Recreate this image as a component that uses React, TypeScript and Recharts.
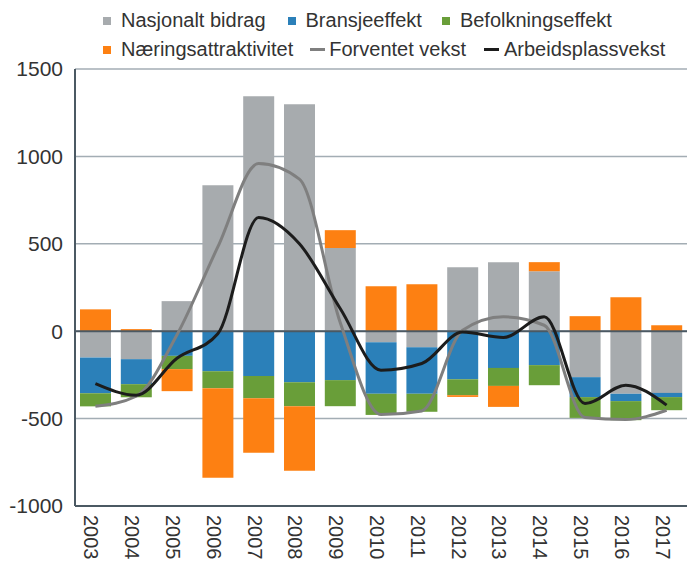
import React from 'react'
import {
  ComposedChart,
  Bar,
  Line,
  XAxis,
  YAxis,
  CartesianGrid,
  ReferenceLine,
} from 'recharts'

const years = ['2003', '2004', '2005', '2006', '2007', '2008', '2009', '2010', '2011', '2012', '2013', '2014', '2015', '2016', '2017']
const nasjonalt = [-150, -160, 172, 835, 1344, 1298, 476, -63, -92, 366, 395, 343, -263, -358, -353]
const bransje = [-205, -143, -141, -229, -257, -292, -280, -295, -266, -275, -210, -194, -114, -42, -24]
const befolkning = [-75, -75, -76, -97, -126, -137, -149, -121, -103, -91, -103, -115, -119, -109, -75]
const naering = [125, 12, -126, -513, -313, -370, 102, 257, 269, -10, -120, 52, 86, 194, 34]
const forventet = [-430, -372, -20, 482, 959, 870, 50, -477, -456, 5, 82, 34, -494, -505, -452]
const arbeid = [-300, -366, -155, -15, 650, 500, 130, -223, -185, -5, -36, 82, -414, -309, -423]
const yTicks = [-1000, -500, 0, 500, 1000, 1500]

const data = years.map((year, i) => ({
  year,
  nasjonalt: nasjonalt[i],
  bransje: bransje[i],
  befolkning: befolkning[i],
  naering: naering[i],
  forventet: forventet[i],
  arbeid: arbeid[i],
}))

const FONT = '"Liberation Sans", Arial, sans-serif'
const TEXT = '#333333'
const AXIS = '#4b5963'

const C = {
  gray: '#a7abae',
  blue: '#2b80b9',
  green: '#699e39',
  orange: '#fd8012',
  lineGray: '#7f7f7f',
  lineBlack: '#1c1c1c',
}

function YearTick({ x, y, payload }: any) {
  return (
    <g transform={`translate(${x - 11},${y}) rotate(90)`}>
      <text x={0} y={0} fontSize={20} fill={TEXT} fontFamily={FONT} textAnchor="start">
        {payload.value}
      </text>
    </g>
  )
}

function Square({ color }: { color: string }) {
  return <span style={{ width: 8, height: 8, background: color, display: 'inline-block' }} />
}

function Dash({ color }: { color: string }) {
  return <span style={{ width: 15, height: 3, background: color, display: 'inline-block' }} />
}

function ChartLegend() {
  const row: React.CSSProperties = { display: 'flex', alignItems: 'center', height: 29, whiteSpace: 'nowrap' }
  return (
    <div style={{ position: 'absolute', left: 103, top: 6, fontSize: 20, color: TEXT, fontFamily: FONT }}>
      <div style={row}>
        <Square color={C.gray} />
        <span style={{ marginLeft: 10 }}>Nasjonalt bidrag</span>
        <span style={{ marginLeft: 22 }} />
        <Square color={C.blue} />
        <span style={{ marginLeft: 10 }}>Bransjeeffekt</span>
        <span style={{ marginLeft: 20 }} />
        <Square color={C.green} />
        <span style={{ marginLeft: 10 }}>Befolkningseffekt</span>
      </div>
      <div style={row}>
        <Square color={C.orange} />
        <span style={{ marginLeft: 10 }}>Næringsattraktivitet</span>
        <span style={{ marginLeft: 17 }} />
        <Dash color={C.lineGray} />
        <span style={{ marginLeft: 4 }}>Forventet vekst</span>
        <span style={{ marginLeft: 18 }} />
        <Dash color={C.lineBlack} />
        <span style={{ marginLeft: 5 }}>Arbeidsplassvekst</span>
      </div>
    </div>
  )
}

export default function App() {
  return (
    <div style={{ position: 'absolute', left: 0, top: 0, width: 696, height: 563, background: '#fff', fontFamily: FONT }}>
      <ComposedChart
        width={696}
        height={563}
        data={data}
        stackOffset="sign"
        margin={{ top: 69, right: 9, left: 0, bottom: 0 }}
      >
        <CartesianGrid vertical={false} stroke="#a3adb4" strokeWidth={1.5} />
        <XAxis
          dataKey="year"
          height={57}
          tickSize={0}
          tickMargin={9}
          tick={<YearTick />}
          interval={0}
          axisLine={{ stroke: AXIS, strokeWidth: 2 }}
          tickLine={false}
        />
        <YAxis
          width={75}
          domain={[-1000, 1500]}
          ticks={yTicks}
          interval={0}
          tickSize={0}
          tickMargin={12}
          tick={{ fontSize: 21, fill: TEXT, fontFamily: FONT }}
          axisLine={{ stroke: AXIS, strokeWidth: 2 }}
          tickLine={false}
        />
        <Bar dataKey="nasjonalt" stackId="a" fill={C.gray} barSize={31} isAnimationActive={false} />
        <Bar dataKey="bransje" stackId="a" fill={C.blue} barSize={31} isAnimationActive={false} />
        <Bar dataKey="befolkning" stackId="a" fill={C.green} barSize={31} isAnimationActive={false} />
        <Bar dataKey="naering" stackId="a" fill={C.orange} barSize={31} isAnimationActive={false} />
        <ReferenceLine y={0} stroke={AXIS} strokeWidth={2} />
        <Line type="monotone" dataKey="forventet" stroke={C.lineGray} strokeWidth={3} dot={false} isAnimationActive={false} />
        <Line type="monotone" dataKey="arbeid" stroke={C.lineBlack} strokeWidth={3} dot={false} isAnimationActive={false} />
      </ComposedChart>
      <ChartLegend />
    </div>
  )
}
